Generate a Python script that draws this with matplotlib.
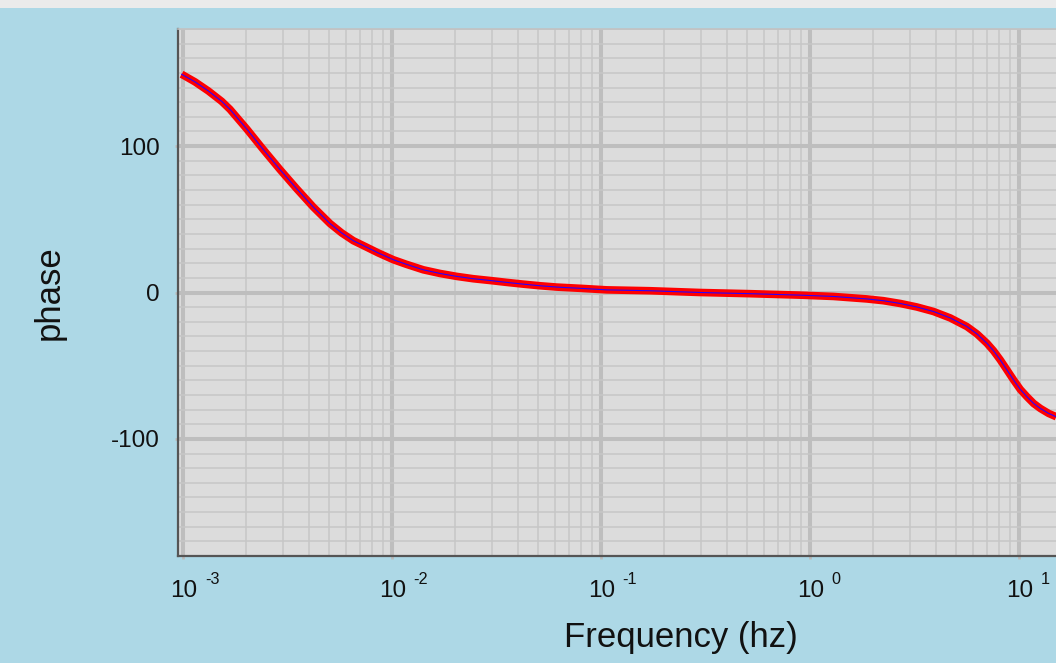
import matplotlib
matplotlib.use("Agg")
import matplotlib.pyplot as plt
from matplotlib.patches import Rectangle
from matplotlib.ticker import FixedLocator, MultipleLocator, FuncFormatter, NullFormatter
import numpy as np

plt.rcParams['font.family'] = ['Liberation Sans', 'DejaVu Sans']

# values
freq_hz = [0.000982, 0.001138, 0.001318, 0.001527, 0.001674, 0.002011, 0.002415,
           0.002903, 0.003489, 0.004190, 0.005039, 0.005729,
           0.006514, 0.007410, 0.008583, 0.01012,
           0.01172, 0.01409, 0.01694, 0.02035, 0.02444, 0.02938, 0.03532,
           0.04243, 0.05098, 0.06126, 0.08072, 0.1063, 0.1714, 0.2975, 0.5129,
           0.8954, 1.292, 1.867, 2.239, 2.697, 3.240, 3.894, 4.680, 5.623, 6.280,
           7.011, 7.544, 8.121, 8.737, 9.406, 10.12, 10.89, 11.72, 12.62,
           13.83, 15.05]
phase_deg = [149.1, 143.9, 137.7, 130.6, 125.1, 111.8, 97.7,
             84.0, 70.9, 58.4, 47.1, 40.7,
             35.4, 31.5, 27.0, 22.4,
             19.2, 15.5, 13.0, 11.0, 9.4, 8.2, 6.9,
             5.7, 4.6, 3.7, 2.8, 1.8, 1.2, 0.0, -0.8,
             -1.8, -2.7, -4.4, -5.6, -7.5, -9.9, -13.0, -17.4, -23.3, -28.3,
             -34.7, -39.9, -46.1, -52.9, -59.8, -66.2, -71.2, -75.8, -79.2,
             -82.6, -84.9]

x_decades = [1e-3, 1e-2, 1e-1, 1e0, 1e1, 1e2]
y_major = [-100, 0, 100]

W, H = 1056, 663
fig = plt.figure(figsize=(W / 100, H / 100), dpi=100, facecolor='#add8e6')

# browser chrome strip at the top
fig.add_artist(Rectangle((0, 1 - 8 / H), 1, 8 / H, transform=fig.transFigure,
                         facecolor='#ebebeb', edgecolor='none'))

ax = fig.add_axes([178 / W, 107 / H, (1061 - 178) / W, 527 / H])
ax.set_facecolor('#dcdcdc')
ax.set_xscale('log')
ax.set_xlim(10 ** -3.025, 10 ** 1.2)
ax.set_ylim(-180, 180)

ax.plot(freq_hz, phase_deg, color='#ff0000', lw=5.5, solid_capstyle='butt',
        solid_joinstyle='round', zorder=3)
ax.plot(freq_hz, phase_deg, color='#2a00ff', lw=0.8, zorder=4)

ax.xaxis.set_major_locator(FixedLocator(x_decades))
ax.xaxis.set_minor_locator(FixedLocator([m * d for d in x_decades for m in range(2, 10)]))
ax.xaxis.set_minor_formatter(NullFormatter())
ax.xaxis.set_major_formatter(FuncFormatter(lambda v, p: '10'))
ax.yaxis.set_major_locator(FixedLocator(y_major))
ax.yaxis.set_minor_locator(MultipleLocator(10))
ax.yaxis.set_major_formatter(FuncFormatter(lambda v, p: '%d' % v))

ax.set_axisbelow(True)
ax.grid(which='major', color='#bebebe', lw=2.9)
ax.grid(which='minor', color='#c6c6c6', lw=1.1)

ax.tick_params(which='major', length=2, width=2, color='#bbbbbb', labelsize=17.5,
               labelcolor='#111111')
ax.tick_params(which='minor', length=0)
ax.tick_params(axis='y', pad=11)
ax.tick_params(axis='x', pad=15)

# exponents of the decade labels, raised to the right of the "10"
for d in x_decades[:-1]:
    ax.annotate('%d' % int(round(np.log10(d))), xy=(d, 0),
                xycoords=('data', 'axes fraction'), xytext=(15.5, -11.3),
                textcoords='offset points', ha='left', va='top',
                fontsize=11.7, color='#111111', annotation_clip=False)

for s in ['left', 'bottom']:
    ax.spines[s].set_color('#555555')
    ax.spines[s].set_linewidth(1.6)
ax.spines['top'].set_color('#c2c2c2')
ax.spines['top'].set_linewidth(1.2)
ax.spines['right'].set_visible(False)

ax.set_xlabel('Frequency (hz)', fontsize=25, color='#111111')
ax.xaxis.set_label_coords((681 - 178) / (1061 - 178), -0.124)
ax.set_ylabel('phase', fontsize=25, color='#111111')
ax.yaxis.set_label_coords((66 - 178) / (1061 - 178), 0.5)

fig.savefig('out.png', dpi=100, facecolor=fig.get_facecolor())
